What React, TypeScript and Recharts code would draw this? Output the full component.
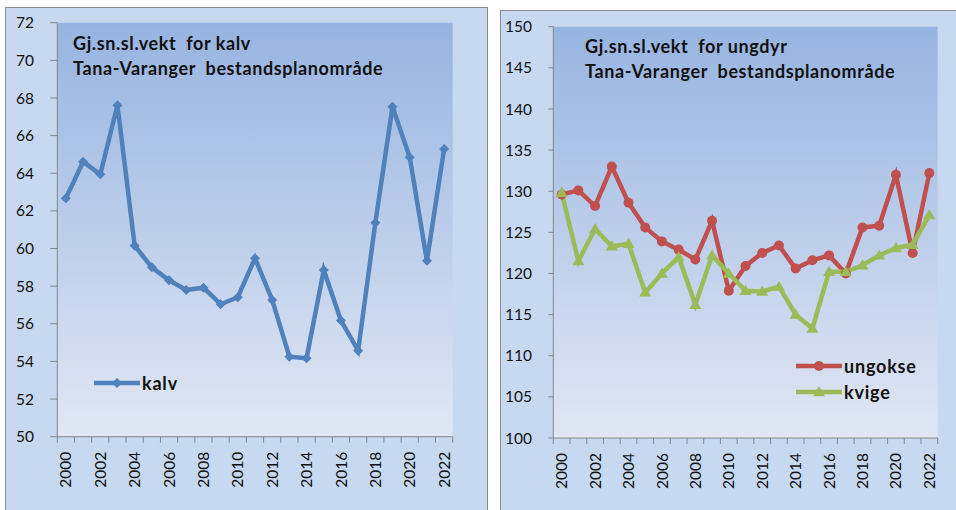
import { CartesianGrid, Line, LineChart, XAxis, YAxis } from "recharts";

const years = [
  2000, 2001, 2002, 2003, 2004, 2005, 2006, 2007, 2008, 2009, 2010, 2011,
  2012, 2013, 2014, 2015, 2016, 2017, 2018, 2019, 2020, 2021, 2022,
];

// gj.sn. slaktevekt kalv (kg)
const kalv = [
  62.67, 64.61, 63.94, 67.61, 60.15, 59.0, 58.31, 57.8, 57.92, 57.04, 57.41, 59.48,
  57.27, 54.25, 54.17, 58.86, 56.17, 54.57, 61.37, 67.54, 64.85, 59.35, 65.29,
];

// gj.sn. slaktevekt ungdyr (kg)
const ungokse = [
  129.6, 130.1, 128.2, 133.0, 128.6, 125.6, 123.9, 122.9, 121.7, 126.4, 117.9, 120.9,
  122.5, 123.4, 120.6, 121.6, 122.2, 120.0, 125.6, 125.8, 132.0, 122.5, 132.2,
];
const kvige = [
  129.8, 121.5, 125.4, 123.3, 123.6, 117.7, 120.0, 122.0, 116.2, 122.2, 120.0, 117.9,
  117.8, 118.4, 115.0, 113.3, 120.2, 120.2, 121.0, 122.2, 123.1, 123.5, 127.1,
];

const kalvTicks = [50, 52, 54, 56, 58, 60, 62, 64, 66, 68, 70, 72];
const ungdyrTicks = [100, 105, 110, 115, 120, 125, 130, 135, 140, 145, 150];
// tick marks sit between the categories, labels every second year
const boundaries = [...years.map((y) => y - 0.5), years[years.length - 1] + 0.5];

const kalvData = years.map((year, i) => ({ year, kalv: kalv[i] }));
const ungdyrData = years.map((year, i) => ({ year, ungokse: ungokse[i], kvige: kvige[i] }));

const FONT = "Lato, 'Open Sans', sans-serif";
const AXIS = "#868686";
const BLUE = "#4f81bd";
const RED = "#c0504d";
const GREEN = "#9bbb59";

function Diamond({ cx, cy, fill }: { cx?: number; cy?: number; fill: string }) {
  if (cx == null || cy == null) return null;
  const r = 5;
  return <polygon points={`${cx},${cy - r} ${cx + r},${cy} ${cx},${cy + r} ${cx - r},${cy}`} fill={fill} />;
}

function Triangle({ cx, cy, fill }: { cx?: number; cy?: number; fill: string }) {
  if (cx == null || cy == null) return null;
  const r = 6;
  return <polygon points={`${cx},${cy - r} ${cx + r},${cy + r * 0.7} ${cx - r},${cy + r * 0.7}`} fill={fill} />;
}

function YearTick(props: any) {
  const { x, y, payload, bandWidth } = props;
  const year = payload.value + 0.5;
  if (year % 2 !== 0 || year > 2022) return null;
  const cx = x + bandWidth / 2;
  const ty = y + 7;
  return (
    <text
      x={cx}
      y={ty}
      transform={`rotate(-90, ${cx}, ${ty})`}
      textAnchor="end"
      dy="0.36em"
      fontSize={15.5}
      fontFamily={FONT}
      fill="#111"
    >
      {year}
    </text>
  );
}

function ValueTick(props: any) {
  const { y, payload, labelX } = props;
  return (
    <text x={labelX} y={y} dy="0.36em" textAnchor="start" fontSize={15.5} fontFamily={FONT} fill="#111">
      {payload.value}
    </text>
  );
}

type LegendItem = { name: string; color: string; marker: "diamond" | "circle" | "triangle" };

function LegendBox({ items, left, top }: { items: LegendItem[]; left: number; top: number }) {
  return (
    <div style={{ position: "absolute", left, top }}>
      {items.map((it) => (
        <div key={it.name} style={{ display: "flex", alignItems: "center", height: 26 }}>
          <svg width={46} height={14}>
            <line x1={0} x2={46} y1={7} y2={7} stroke={it.color} strokeWidth={4.5} />
            {it.marker === "diamond" && <Diamond cx={23} cy={7} fill={it.color} />}
            {it.marker === "circle" && <circle cx={23} cy={7} r={5} fill={it.color} />}
            {it.marker === "triangle" && <Triangle cx={23} cy={7} fill={it.color} />}
          </svg>
          <span style={{ fontFamily: FONT, fontWeight: 700, fontSize: 18, letterSpacing: 0.8, color: "#111", marginLeft: 2 }}>
            {it.name}
          </span>
        </div>
      ))}
    </div>
  );
}

function Gradient({ id }: { id: string }) {
  return (
    <defs>
      <linearGradient id={id} x1="0" y1="0" x2="0" y2="1">
        <stop offset="0%" stopColor="#97b4e1" />
        <stop offset="100%" stopColor="#e1e7f4" />
      </linearGradient>
    </defs>
  );
}

const titleStyle: React.CSSProperties = {
  position: "absolute",
  fontFamily: FONT,
  fontWeight: 700,
  fontSize: 18,
  letterSpacing: 0.6,
  lineHeight: "25px",
  color: "#111",
  whiteSpace: "pre",
};

export default function App() {
  const leftPlotW = 452.7 - 57.3;
  const rightPlotW = 447.7 - 63.3;
  return (
    <div style={{ position: "absolute", left: 0, top: 0, width: 956, height: 510, overflow: "hidden", background: "#fff" }}>
      <div style={{ position: "absolute", left: 5, top: 7, width: 481, height: 520, background: "#c6d9f1", border: "1.5px solid #8c8c8c" }} />
      <div style={{ position: "absolute", left: 500, top: 10, width: 470, height: 520, background: "#c6d9f1", border: "1.5px solid #8c8c8c" }} />

      <div style={{ position: "absolute", left: 0, top: 0 }}>
        <LineChart width={488} height={510} data={kalvData} margin={{ top: 22.7, right: 35.3, bottom: 13.3, left: 7.3 }}>
          <Gradient id="plotGradA" />
          <CartesianGrid horizontal={false} vertical={false} fill="url(#plotGradA)" />
          <XAxis
            dataKey="year"
            type="number"
            domain={[1999.5, 2022.5]}
            ticks={boundaries}
            interval={0}
            height={60}
            stroke={AXIS}
            tickSize={6}
            tick={<YearTick bandWidth={leftPlotW / 23} />}
          />
          <YAxis
            domain={[50, 72]}
            ticks={kalvTicks}
            interval={0}
            width={50}
            stroke={AXIS}
            tickSize={7}
            tick={<ValueTick labelX={16} />}
          />
          <Line
            dataKey="kalv"
            stroke={BLUE}
            strokeWidth={4.5}
            dot={(p: any) => <Diamond key={p.index} cx={p.cx} cy={p.cy} fill={BLUE} />}
            isAnimationActive={false}
          />
        </LineChart>
      </div>
      <div style={{ ...titleStyle, left: 73, top: 31 }}>{"Gj.sn.sl.vekt  for kalv\nTana-Varanger  bestandsplanområde"}</div>
      <LegendBox left={94} top={370} items={[{ name: "kalv", color: BLUE, marker: "diamond" }]} />

      <div style={{ position: "absolute", left: 490, top: 0 }}>
        <LineChart width={466} height={510} data={ungdyrData} margin={{ top: 26.7, right: 18.3, bottom: 12, left: 13.3 }}>
          <Gradient id="plotGradB" />
          <CartesianGrid horizontal={false} vertical={false} fill="url(#plotGradB)" />
          <XAxis
            dataKey="year"
            type="number"
            domain={[1999.5, 2022.5]}
            ticks={boundaries}
            interval={0}
            height={60}
            stroke={AXIS}
            tickSize={6}
            tick={<YearTick bandWidth={rightPlotW / 23} />}
          />
          <YAxis
            domain={[100, 150]}
            ticks={ungdyrTicks}
            interval={0}
            width={50}
            stroke={AXIS}
            tickSize={5}
            tick={<ValueTick labelX={15} />}
          />
          <Line
            dataKey="ungokse"
            stroke={RED}
            strokeWidth={4.5}
            dot={{ r: 5, fill: RED, stroke: "none" }}
            isAnimationActive={false}
          />
          <Line
            dataKey="kvige"
            stroke={GREEN}
            strokeWidth={4.5}
            dot={(p: any) => <Triangle key={p.index} cx={p.cx} cy={p.cy} fill={GREEN} />}
            isAnimationActive={false}
          />
        </LineChart>
      </div>
      <div style={{ ...titleStyle, left: 585, top: 34 }}>{"Gj.sn.sl.vekt  for ungdyr\nTana-Varanger  bestandsplanområde"}</div>
      <LegendBox
        left={796}
        top={353}
        items={[
          { name: "ungokse", color: RED, marker: "circle" },
          { name: "kvige", color: GREEN, marker: "triangle" },
        ]}
      />
    </div>
  );
}
